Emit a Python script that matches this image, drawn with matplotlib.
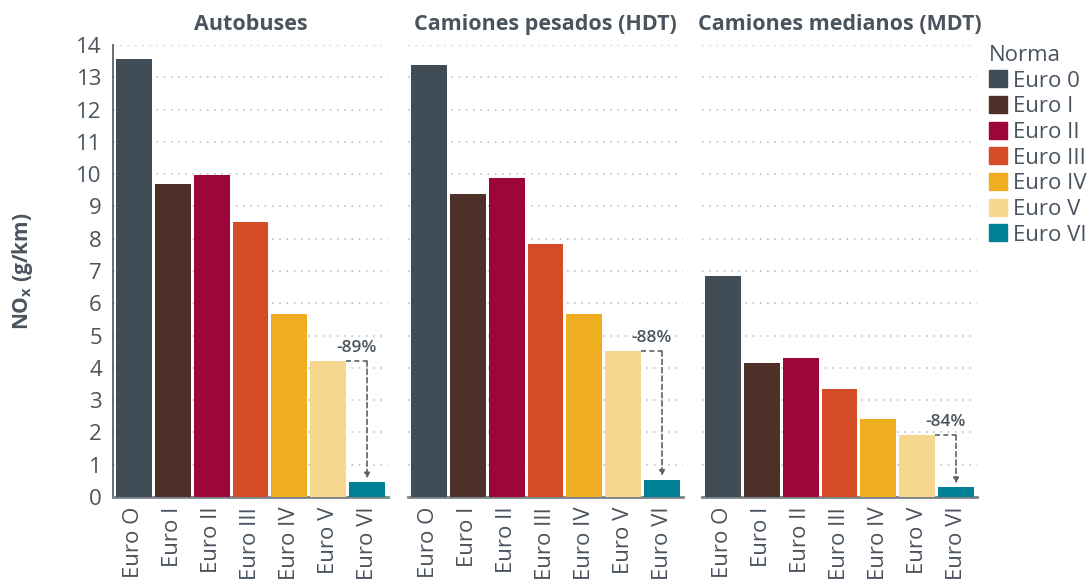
import matplotlib
matplotlib.use('Agg')
import matplotlib.pyplot as plt

plt.rcParams['font.family'] = ['Open Sans', 'DejaVu Sans']

# data
normas = ['Euro 0', 'Euro I', 'Euro II', 'Euro III', 'Euro IV', 'Euro V', 'Euro VI']
tick_labels = ['Euro O', 'Euro I', 'Euro II', 'Euro III', 'Euro IV', 'Euro V', 'Euro VI']
paneles = ['Autobuses', 'Camiones pesados (HDT)', 'Camiones medianos (MDT)']
autobuses = [13.56, 9.69, 9.98, 8.52, 5.67, 4.21, 0.45]
hdt = [13.37, 9.38, 9.88, 7.83, 5.67, 4.52, 0.53]
mdt = [6.84, 4.15, 4.30, 3.34, 2.41, 1.92, 0.30]
reducciones = ['-89%', '-88%', '-84%']

colores = ['#404c56', '#4d3027', '#9d063a', '#d54a27', '#efae1f', '#f7d68f', '#007f95']
txt = '#4a545e'

fig = plt.figure(figsize=(10.89, 5.8), dpi=100)
lefts = [113, 408, 702]
series = [autobuses, hdt, mdt]

for i, (vals, titulo, red) in enumerate(zip(series, paneles, reducciones)):
    ax = fig.add_axes([lefts[i] / 1089, 1 - 497 / 580, 275 / 1089, (497 - 45) / 580])
    x = list(range(len(vals)))
    ax.bar(x, vals, width=0.92, color=colores, zorder=3)
    ax.set_xlim(-0.54, 6.54)
    ax.set_ylim(0, 14)
    ax.set_yticks(range(0, 15))
    ax.grid(axis='y', color='#c8cbce', linestyle=(0, (1, 3)), linewidth=1.3, zorder=0)
    ax.set_xticks(x)
    ax.set_xticklabels(tick_labels, rotation=90, fontsize=16, color=txt)
    ax.tick_params(length=0, pad=7)
    for s in ['top', 'right']:
        ax.spines[s].set_visible(False)
    ax.spines['bottom'].set_color('#7a838a')
    ax.spines['bottom'].set_linewidth(2)
    if i == 0:
        ax.spines['left'].set_color('#4a545e')
        ax.spines['left'].set_linewidth(1.2)
        ax.tick_params(axis='y', labelsize=16, labelcolor=txt, pad=8)
        ax.set_ylabel(r'NO$_\mathregular{x}$ (g/km)', fontsize=15, fontweight='bold',
                      color=txt, labelpad=30)
    else:
        ax.spines['left'].set_visible(False)
        ax.set_yticklabels([])
    ax.set_title(titulo, fontsize=15.5, fontweight='bold', color=txt, pad=11)

    # reduction annotation from Euro V to Euro VI
    v5, v6 = vals[5], vals[6]
    ax.plot([5 + 0.47, 6], [v5, v5], color='#59636c', ls=(0, (3, 2)), lw=1.2, zorder=4)
    ax.annotate('', xy=(6, v6 + 0.12), xytext=(6, v5),
                arrowprops=dict(arrowstyle='-|>', color='#59636c', lw=1.2,
                                ls=(0, (3, 2)), shrinkA=0, shrinkB=0,
                                mutation_scale=8), zorder=4)
    ax.text(5.72, v5 + 0.15, red, ha='center', va='bottom', fontsize=12.5,
            fontweight='semibold', color=txt)

    if i == 2:
        handles = [plt.Rectangle((0, 0), 1, 1, color=c) for c in colores]
        leg = ax.legend(handles, normas, title='Norma', loc='upper left',
                        bbox_to_anchor=(1.045, 1.0), frameon=False, fontsize=16,
                        title_fontsize=16, handlelength=0.8, handleheight=0.8,
                        handletextpad=0.25, labelspacing=0.2, borderaxespad=0,
                        borderpad=0)
        leg._legend_box.align = 'left'
        for t in leg.get_texts():
            t.set_color(txt)
        leg.get_title().set_color(txt)

fig.savefig('out.png', dpi=100)
